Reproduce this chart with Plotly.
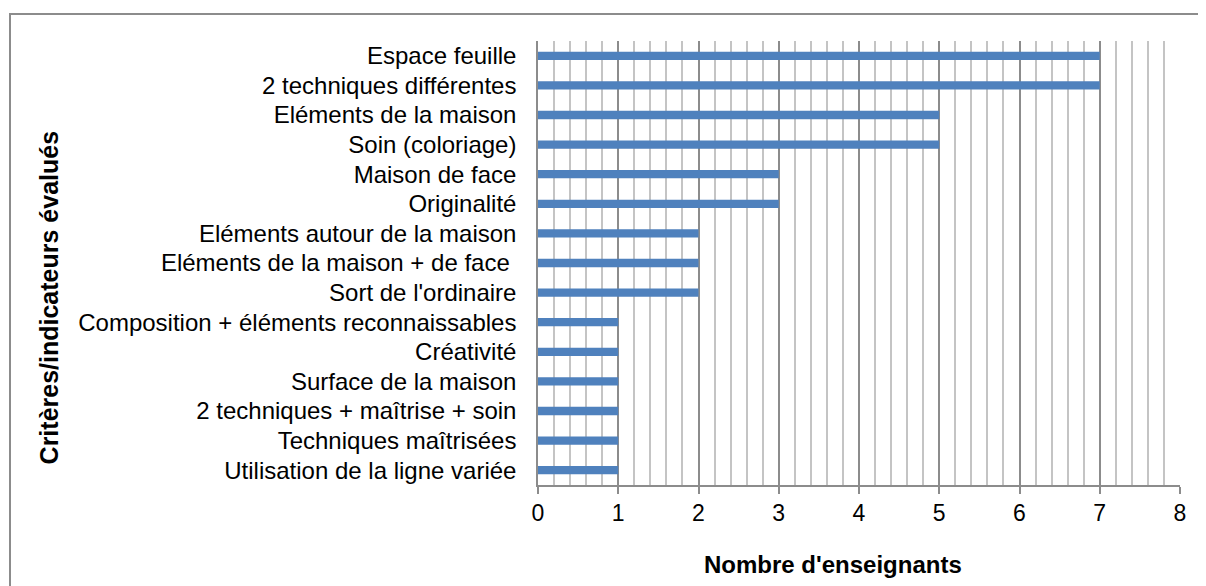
import plotly.graph_objects as go

criteres = [
    "Espace feuille",
    "2 techniques différentes",
    "Eléments de la maison",
    "Soin (coloriage)",
    "Maison de face",
    "Originalité",
    "Eléments autour de la maison",
    "Eléments de la maison + de face ",
    "Sort de l'ordinaire",
    "Composition + éléments reconnaissables",
    "Créativité",
    "Surface de la maison",
    "2 techniques + maîtrise + soin",
    "Techniques maîtrisées",
    "Utilisation de la ligne variée",
]
enseignants = [7, 7, 5, 5, 3, 3, 2, 2, 2, 1, 1, 1, 1, 1, 1]

FONT = "Liberation Sans, Arial, sans-serif"

# the page body has an 8px margin, so the figure is drawn 8px smaller / shifted
fig = go.Figure(go.Bar(
    x=enseignants, y=criteres, orientation="h",
    marker=dict(color="#4f81bd", line=dict(width=0)),
    width=0.28,
))

fig.update_layout(
    width=1198, height=578,
    margin=dict(l=530, r=26, t=33, b=101),
    paper_bgcolor="white", plot_bgcolor="white",
    font=dict(family=FONT, size=24, color="black"),
    showlegend=False,
    xaxis=dict(
        range=[0, 8], dtick=1, tick0=0,
        showgrid=True, gridcolor="#8c8c8c", gridwidth=1.5,
        minor=dict(dtick=0.2, showgrid=True, gridcolor="#c4c4c4", gridwidth=1.5),
        showline=True, linecolor="#8c8c8c", linewidth=1.5,
        ticks="outside", ticklen=7, tickcolor="#8c8c8c", tickwidth=1.5,
        zeroline=False, fixedrange=True, tickfont=dict(size=23),
    ),
    yaxis=dict(
        autorange="reversed",
        showline=True, linecolor="#8c8c8c", linewidth=1.5,
        showgrid=False, ticks="", ticklabelstandoff=15,
    ),
    annotations=[
        dict(text="<b>Critères/indicateurs évalués</b>", textangle=-90,
             xref="paper", yref="paper", x=(49 - 538) / 642, y=(485 - 297) / 445,
             xanchor="center", yanchor="middle",
             showarrow=False, font=dict(size=25)),
        dict(text="<b>Nombre d'enseignants</b>",
             xref="paper", yref="paper", x=(833 - 538) / 642, y=-(565 - 485) / 445,
             xanchor="center", yanchor="middle",
             showarrow=False, font=dict(size=24)),
    ],
    shapes=[
        dict(type="rect", xref="paper", yref="paper",
             x0=(10 - 538) / 642, x1=(1220 - 538) / 642,
             y0=-(600 - 485) / 445, y1=(485 - 13) / 445,
             line=dict(color="#8c8c8c", width=2), layer="below"),
    ],
)

fig.write_html("out.html")
